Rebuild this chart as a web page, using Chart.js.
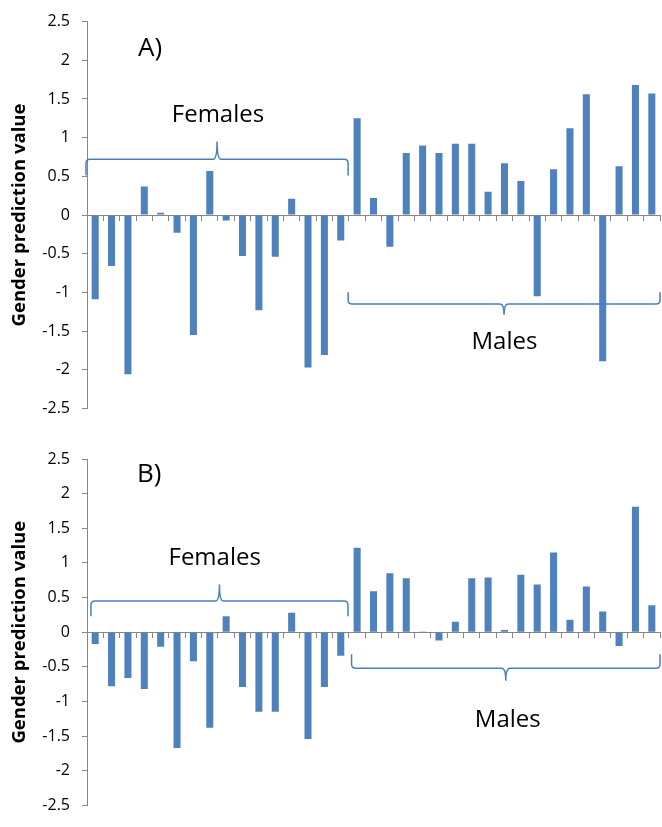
<!DOCTYPE html>
<html>
<head>
<meta charset="utf-8">
<script src="https://cdn.jsdelivr.net/npm/chart.js@4.4.0/dist/chart.umd.min.js"></script>
<style>
  html, body { margin: 0; padding: 0; background: #fff; }
  canvas { position: absolute; left: 0; }
</style>
</head>
<body>
<canvas id="chartA" width="662" height="430" style="top:0"></canvas>
<canvas id="chartB" width="662" height="397" style="top:430px"></canvas>
<script>
// individuals: 16 females, then 19 males
const categories = ['F1', 'F2', 'F3', 'F4', 'F5', 'F6', 'F7', 'F8', 'F9', 'F10', 'F11', 'F12', 'F13', 'F14', 'F15', 'F16',
  'M1', 'M2', 'M3', 'M4', 'M5', 'M6', 'M7', 'M8', 'M9', 'M10', 'M11', 'M12', 'M13', 'M14', 'M15', 'M16', 'M17', 'M18', 'M19'];

// panel A
const valuesA = [-1.09, -0.66, -2.06, 0.37, 0.03, -0.23, -1.55, 0.57, -0.07, -0.53, -1.23, -0.54, 0.21, -1.97, -1.81, -0.33,
  1.25, 0.22, -0.41, 0.80, 0.90, 0.80, 0.92, 0.92, 0.30, 0.67, 0.44, -1.05, 0.59, 1.12, 1.56, -1.89, 0.63, 1.68, 1.57];

// panel B
const valuesB = [-0.17, -0.78, -0.66, -0.82, -0.21, -1.67, -0.42, -1.38, 0.23, -0.79, -1.15, -1.15, 0.28, -1.54, -0.79, -0.34,
  1.22, 0.59, 0.85, 0.78, 0.01, -0.12, 0.15, 0.78, 0.79, 0.03, 0.83, 0.69, 1.15, 0.18, 0.66, 0.30, -0.20, 1.81, 0.39];

const yTicks = [-2.5, -2, -1.5, -1, -0.5, 0, 0.5, 1, 1.5, 2, 2.5];

Chart.defaults.font.family = "'Open Sans', sans-serif";
Chart.defaults.color = '#000';

// braces + labels, placed in axis units (category index / value)
const notesA = {
  braces: [
    { from: -0.56, to: 15.45, line: 0.72, tip: 0.95, end: 0.51 },
    { from: 15.45, to: 34.5, line: -1.15, tip: -1.29, end: -1.0 }
  ],
  labels: [
    { text: 'A)', x: 3.35, y: 2.15, size: 26 },
    { text: 'Females', x: 7.5, y: 1.29, size: 24 },
    { text: 'Males', x: 25, y: -1.65, size: 24 }
  ]
};
const notesB = {
  braces: [
    { from: -0.26, to: 15.44, line: 0.45, tip: 0.69, end: 0.23 },
    { from: 15.66, to: 34.5, line: -0.52, tip: -0.70, end: -0.32 }
  ],
  labels: [
    { text: 'B)', x: 3.3, y: 2.27, size: 26 },
    { text: 'Females', x: 7.3, y: 1.07, size: 24 },
    { text: 'Males', x: 25.2, y: -1.27, size: 24 }
  ]
};

function drawBrace(ctx, x0, x1, yLine, yTip, yEnd) {
  const xm = (x0 + x1) / 2;
  const s = Math.sign(yEnd - yLine);
  const r = 4;
  ctx.beginPath();
  ctx.moveTo(x0, yEnd);
  ctx.lineTo(x0, yLine + s * r);
  ctx.quadraticCurveTo(x0, yLine, x0 + r, yLine);
  ctx.lineTo(xm - r, yLine);
  ctx.quadraticCurveTo(xm, yLine, xm, yTip);
  ctx.quadraticCurveTo(xm, yLine, xm + r, yLine);
  ctx.lineTo(x1 - r, yLine);
  ctx.quadraticCurveTo(x1, yLine, x1, yLine + s * r);
  ctx.lineTo(x1, yEnd);
  ctx.stroke();
}

const notesPlugin = {
  id: 'notes',
  beforeDatasetsDraw(chart, args, opts) {
    const { ctx, scales: { x, y } } = chart;
    ctx.save();
    ctx.strokeStyle = '#4a7ebb';
    ctx.lineWidth = 1.5;
    opts.braces.forEach(b => {
      drawBrace(ctx, x.getPixelForValue(b.from), x.getPixelForValue(b.to),
        y.getPixelForValue(b.line), y.getPixelForValue(b.tip), y.getPixelForValue(b.end));
    });
    ctx.fillStyle = '#000';
    ctx.textAlign = 'center';
    ctx.textBaseline = 'middle';
    opts.labels.forEach(l => {
      ctx.font = l.size + "px 'Open Sans', sans-serif";
      ctx.fillText(l.text, x.getPixelForValue(l.x), y.getPixelForValue(l.y));
    });
    ctx.restore();
  }
};

function makeChart(id, values, notes, padding) {
  return new Chart(document.getElementById(id), {
    type: 'bar',
    data: {
      labels: categories,
      datasets: [{
        data: values,
        backgroundColor: '#4f81bd',
        borderWidth: 0,
        categoryPercentage: 1,
        barPercentage: 0.43
      }]
    },
    options: {
      responsive: false,
      animation: false,
      layout: { padding: padding, autoPadding: false },
      plugins: {
        legend: { display: false },
        tooltip: { enabled: false },
        notes: notes
      },
      scales: {
        x: {
          position: { y: 0 },
          afterFit: s => { s.height = 0; },
          ticks: { display: false },
          grid: { offset: true, drawOnChartArea: false, tickLength: 5, color: '#868686' },
          border: { color: '#868686' }
        },
        y: {
          min: -2.5,
          max: 2.5,
          afterBuildTicks: s => { s.ticks = yTicks.map(v => ({ value: v })); },
          afterFit: s => { s.width = 87; },
          ticks: { font: { size: 16 }, padding: 12, callback: v => String(v) },
          grid: { drawOnChartArea: false, tickLength: 5, color: '#868686' },
          border: { color: '#868686' },
          title: {
            display: true,
            text: 'Gender prediction value',
            font: { size: 18.5, weight: 'bold' },
            padding: { top: 9, bottom: 0 }
          }
        }
      }
    },
    plugins: [notesPlugin]
  });
}

makeChart('chartA', valuesA, notesA, { left: 0, right: 2, top: 21, bottom: 17.5 });
makeChart('chartB', valuesB, notesB, { left: 0, right: 2, top: 29, bottom: 7 });
</script>
</body>
</html>
